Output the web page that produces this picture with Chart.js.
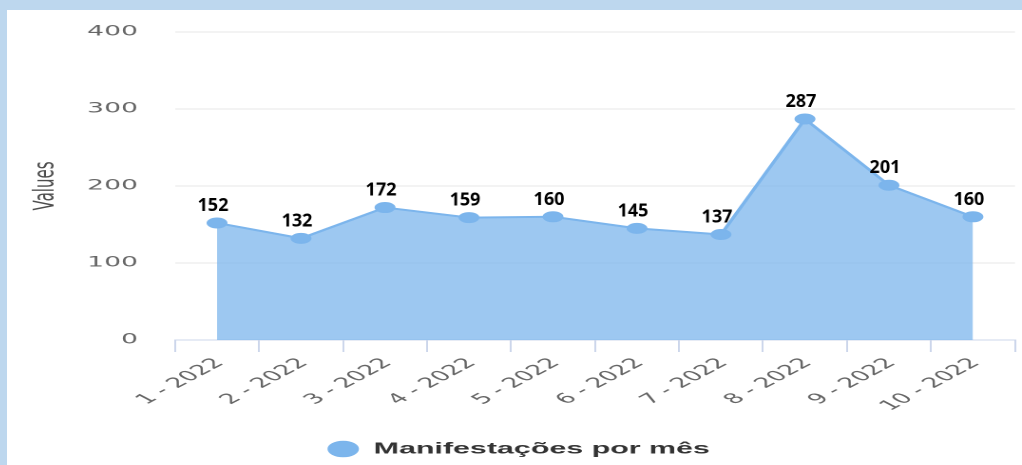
<!DOCTYPE html>
<html><head><meta charset="utf-8">
<script src="https://cdn.jsdelivr.net/npm/chart.js@4.4.1/dist/chart.umd.min.js"></script>
<style>
html,body{margin:0;padding:0;background:#bdd7ee;width:1022px;height:465px;overflow:hidden;}
#panel{position:absolute;left:7px;top:10px;width:1015px;height:455px;background:#fff;overflow:hidden;}
#wrap{position:absolute;left:0;top:0;width:534px;height:457px;transform:scaleX(1.9007);transform-origin:0 0;}
</style></head><body>
<div id="panel"><div id="wrap"><canvas id="c" width="534" height="457"></canvas></div></div>
<script>
const categories = ['1 - 2022','2 - 2022','3 - 2022','4 - 2022','5 - 2022','6 - 2022','7 - 2022','8 - 2022','9 - 2022','10 - 2022'];
const values = [152,132,172,159,160,145,137,287,201,160];
const yTicks = [0,100,200,300,400];
const seriesName = 'Manifestações por mês';
const axisTitle = 'Values';

const S = 1015/534;

const dataLabelPlugin = {
  id: 'dl',
  afterDatasetsDraw(chart) {
    const ctx = chart.ctx;
    const meta = chart.getDatasetMeta(0);
    ctx.save();
    ctx.font = 'bold 18px "Open Sans"';
    ctx.fillStyle = '#000';
    ctx.textAlign = 'center';
    ctx.textBaseline = 'alphabetic';
    meta.data.forEach((pt, i) => {
      ctx.save();
      ctx.translate(pt.x - 4 / S, pt.y - 12);
      ctx.scale(1 / S, 1);
      ctx.fillText(String(values[i]), 0, 0);
      ctx.restore();
    });
    ctx.restore();
  }
};

new Chart(document.getElementById('c'), {
  type: 'line',
  data: {
    labels: categories,
    datasets: [{
      label: seriesName,
      data: values,
      borderColor: '#7cb5ec',
      backgroundColor: 'rgba(124,181,236,0.75)',
      borderWidth: 2,
      fill: 'origin',
      tension: 0,
      pointRadius: 5,
      pointBackgroundColor: '#7cb5ec',
      pointBorderColor: '#7cb5ec',
      pointBorderWidth: 1
    }]
  },
  options: {
    responsive: false,
    animation: false,
    devicePixelRatio: 2,
    layout: { autoPadding: false, padding: { top: 22, right: 3.7, left: 8.4, bottom: 0 } },
    plugins: {
      tooltip: { enabled: false },
      legend: {
        position: 'bottom',
        labels: {
          usePointStyle: true,
          pointStyle: 'circle',
          boxWidth: 16,
          boxHeight: 11,
          padding: 10,
          color: '#333333',
          font: { family: '"Liberation Sans", Arial, sans-serif', size: 16, weight: 'bold' }
        }
      }
    },
    scales: {
      x: {
        type: 'category',
        offset: true,
        grid: { offset: true, drawOnChartArea: false, drawTicks: true, tickLength: 12, color: '#ccd6eb', lineWidth: 1 },
        border: { display: true, color: '#ccd6eb', width: 1 },
        ticks: {
          autoSkip: false, minRotation: 45, maxRotation: 45, padding: 3, labelOffset: 1.5,
          color: '#666666',
          font: { family: '"DejaVu Sans", sans-serif', size: 14 }
        },
        afterFit(s) { s.height = 91; s.paddingLeft = 0; s.paddingRight = 0; s.paddingTop = 0; s.paddingBottom = 0; }
      },
      y: {
        min: 0, max: 400,
        afterBuildTicks(s) { s.ticks = yTicks.map(v => ({ value: v })); },
        grid: { color: '#e6e6e6', lineWidth: 1, drawTicks: false },
        border: { display: false },
        ticks: {
          padding: 19.5,
          color: '#666666',
          font: { family: '"DejaVu Sans", sans-serif', size: 14 }
        },
        title: {
          display: true, text: axisTitle, color: '#4d4d4d',
          font: { family: '"DejaVu Sans", sans-serif', size: 15 },
          padding: { top: 3.4, bottom: 0 }
        },
        afterFit(s) { s.width = 80; s.paddingLeft = 0; s.paddingRight = 0; s.paddingTop = 0; s.paddingBottom = 0; }
      }
    }
  },
  plugins: [dataLabelPlugin]
});
</script>
</body></html>
